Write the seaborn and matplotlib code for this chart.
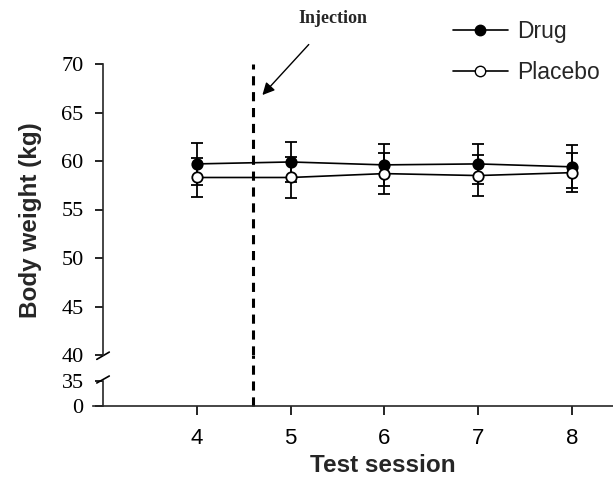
import numpy as np
import pandas as pd
import matplotlib
matplotlib.use("Agg")
import matplotlib.pyplot as plt
from matplotlib.lines import Line2D
import seaborn as sns

# values
sessions = [4, 5, 6, 7, 8]
drug_mean = [59.7, 59.9, 59.6, 59.7, 59.4]
drug_err = [2.2, 2.1, 2.2, 2.05, 2.2]
placebo_mean = [58.3, 58.3, 58.7, 58.5, 58.8]
placebo_err = [2.0, 2.1, 2.1, 2.1, 2.0]
injection_session = 4.6
upper_yticks = [40, 45, 50, 55, 60, 65, 70]
lower_yticks = [0, 35]

df = pd.DataFrame({"session": sessions * 2,
                   "weight": drug_mean + placebo_mean,
                   "err": drug_err + placebo_err,
                   "group": ["Drug"] * 5 + ["Placebo"] * 5})

sns.set_style("ticks")
plt.rcParams["font.family"] = ["Liberation Sans", "DejaVu Sans"]

W, H = 613, 483
fig = plt.figure(figsize=(W / 100, H / 100), dpi=100)
xl, xr = 2.893, 8.44
ax_left, ax_w = 93 / W, 520 / W
ax_up = fig.add_axes([ax_left, 1 - 355 / H, ax_w, (355 - 64) / H])
ax_lo = fig.add_axes([ax_left, 1 - 406 / H, ax_w, (406 - 381) / H])

for ax in (ax_up, ax_lo):
    for grp, mfc in (("Drug", "black"), ("Placebo", "white")):
        d = df[df.group == grp]
        ax.errorbar(d.session, d.weight, yerr=d.err, fmt="none", ecolor="black",
                    elinewidth=1.3, capsize=4, capthick=1.3, zorder=2)
        sns.lineplot(data=d, x="session", y="weight", ax=ax, color="black",
                     marker="o", markersize=7.5, markerfacecolor=mfc,
                     markeredgecolor="black", markeredgewidth=1.3, linewidth=1.2,
                     zorder=3, legend=False)
    ax.set_xlim(xl, xr)
    ax.set_xlabel("")
    ax.set_ylabel("")
    ax.spines["right"].set_visible(False)
    ax.spines["top"].set_visible(False)
    ax.spines["left"].set_position(("data", 3))
    ax.spines["left"].set_linewidth(1.2)
    ax.spines["bottom"].set_linewidth(1.2)

ax_up.set_ylim(40, 70)
ax_lo.set_ylim(0, 35)
ax_up.set_yticks(upper_yticks)
ax_lo.set_yticks(lower_yticks)
ax_up.spines["bottom"].set_visible(False)
ax_up.tick_params(axis="x", bottom=False, labelbottom=False)
ax_lo.set_xticks(sessions)
ax_lo.tick_params(axis="x", length=6.5, width=1.2, labelsize=16, pad=9.5, colors="black")
for ax in (ax_up, ax_lo):
    ax.tick_params(axis="y", length=6, width=1.2, labelsize=16, pad=8, colors="black")
    for lab in ax.get_yticklabels():
        lab.set_fontfamily("Liberation Serif")

# injection marker
ax_up.axvline(injection_session, color="black", linestyle=(0, (3, 2.2)), linewidth=2.2)
ax_lo.axvline(injection_session, ymin=0, ymax=(406 - 355) / 25, color="black",
              linestyle=(0, (3, 2.2)), linewidth=2.2, clip_on=False)
ax_up.annotate("Injection", xy=(4.7, 66.8), xytext=(5.45, 74.7),
               ha="center", va="center", fontsize=13, fontweight="bold",
               fontfamily="Liberation Serif", annotation_clip=False,
               arrowprops=dict(arrowstyle="-|>", color="black", lw=1,
                               mutation_scale=18, shrinkA=14, shrinkB=0))

# axis break marks
sx = (3 - xl) / (xr - xl)
kw = dict(color="black", linewidth=1.2, clip_on=False)
ax_up.plot([sx - 0.012, sx + 0.012], [-0.015, 0.01], transform=ax_up.transAxes, **kw)
ax_lo.plot([sx - 0.012, sx + 0.012], [0.92, 1.2], transform=ax_lo.transAxes, **kw)

fig.text(383 / W, 1 - 466 / H, "Test session", ha="center", va="center",
         fontsize=17.5, fontweight="bold")
fig.text(31 / W, 1 - 220 / H, "Body weight (kg)", rotation=90, ha="center",
         va="center", fontsize=17.5, fontweight="bold")

handles = [Line2D([], [], color="black", marker="o", markersize=7.5, markerfacecolor="black",
                  linewidth=1.2, label="Drug"),
           Line2D([], [], color="black", marker="o", markersize=7.5, markerfacecolor="white",
                  linewidth=1.2, label="Placebo")]
fig.legend(handles=handles, loc="upper right", bbox_to_anchor=(1.012, 1.002), frameon=False,
           fontsize=16.5, handlelength=2.4, handletextpad=0.4, labelspacing=0.8)

fig.savefig("out.png", dpi=100)
